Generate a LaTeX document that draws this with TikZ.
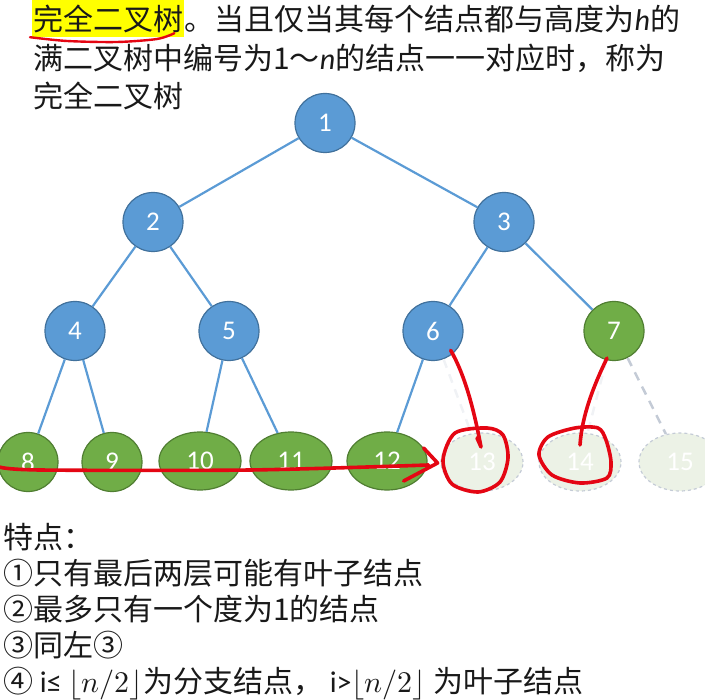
\documentclass[tikz,border=0pt]{standalone}
\usepackage{fontspec}
\usepackage{unicode-math}
\setmainfont{Noto Sans CJK SC}
\newfontfamily\numfont{Carlito}
\usetikzlibrary{shapes.geometric,calc}
\definecolor{tblue}{RGB}{91,155,213}
\definecolor{tblueline}{RGB}{65,113,156}
\definecolor{tgreen}{RGB}{112,173,71}
\definecolor{tgreenline}{RGB}{80,126,50}
\definecolor{tghost}{RGB}{236,242,230}
\definecolor{tghostline}{RGB}{196,203,214}
\definecolor{penred}{RGB}{228,6,19}
\definecolor{hlyellow}{RGB}{255,255,0}
\definecolor{inkgray}{RGB}{25,25,25}

\begin{document}
\begin{tikzpicture}[x=1pt,y=-1pt,
  nd/.style={ellipse,draw=tblueline,line width=1.2pt,fill=tblue,text=white,
             minimum width=60pt,minimum height=59pt,inner sep=0pt,
             font=\numfont\fontsize{27}{27}\selectfont},
  gn/.style={nd,fill=tgreen,draw=tgreenline},
  wide/.style={minimum width=82pt,minimum height=58pt},
  ghost/.style={nd,wide,fill=tghost,draw=tghostline,dashed},
  link/.style={draw=tblue,line width=2.2pt},
  ghostlink/.style={draw=tghostline,line width=2.5pt,dash pattern=on 9pt off 7pt},
  pen/.style={draw=penred,line width=3.6pt,line cap=round,line join=round},
  txt/.style={font=\fontsize{30}{36}\selectfont,inner sep=0pt,anchor=base west,text=inkgray}
]
\useasboundingbox (0,0) rectangle (705,700);

% definition text
\node[txt,fill=hlyellow,text height=27pt,text depth=2pt,inner ysep=4pt,inner xsep=1pt]
  (hl) at (32,31) {完全二叉树};
\node[txt] (l1) at (hl.base east) {。当且仅当其每个结点都与高度为{\numfont\itshape h}的};
\node[txt] (l2) at ($(hl.base west)+(1,38.5)$) {满二叉树中编号为1～{\numfont\itshape n}的结点一一对应时，称为};
\node[txt] (l3) at ($(l2.base west)+(0,38.5)$) {完全二叉树};

% tree
\node[nd] (n1) at (325,123) {1};
\node[nd] (n2) at (153,222) {2};
\node[nd] (n3) at (504,222) {3};
\node[nd] (n4) at (75,331) {4};
\node[nd] (n5) at (229,331) {5};
\node[nd] (n6) at (433,331) {6};
\node[gn] (n7) at (614,331) {7};
\node[gn] (n8) at (28,462) {8};
\node[gn] (n9) at (112,462) {9};
\node[gn,wide] (n10) at (200,461) {10};
\node[gn,wide] (n11) at (291,461) {11};
\node[gn,wide,minimum width=80pt] (n12) at (387,461) {12};
\node[ghost] (n13) at (482,462) {13};
\node[ghost] (n14) at (580,462) {14};
\node[ghost] (n15) at (680,462) {15};

\draw[link] (n1) -- (n2);
\draw[link] (n1) -- (n3);
\draw[link] (n2) -- (n4);
\draw[link] (n2) -- (n5);
\draw[link] (n3) -- (n6);
\draw[link] (n3) -- (n7);
\draw[link] (n4) -- (n8);
\draw[link] (n4) -- (n9);
\draw[link] (n5) -- (n10);
\draw[link] (n5) -- (n11);
\draw[link] (n6) -- (n12);
\draw[ghostlink,draw=tghostline!25] (n6) -- (n13);
\draw[ghostlink,draw=tghostline!25] (n7) -- (n14);
\draw[ghostlink] (n7) -- (n15);

% red pen marks
\draw[pen,line width=2.4pt] plot[smooth] coordinates {($(hl.south west)+(-2,0)$) (67,41) (117,42) (157,39) ($(hl.south east)+(-10,-4)$)};
\draw[pen] plot[smooth] coordinates {($(n8.west)+(2,5)$) (40,470) (250,470) ($(n12.east)+(1,4)$)};
\draw[pen] ($(n12.east)+(-4,-13)$) -- ($(n12.east)+(10,2)$) -- ($(n12.east)+(-24,20)$);
\draw[pen] ($(n6.south east)+(-4,-2)$) .. controls (465,375) and (474,410) .. ($(n13)+(-1,-15)$) -- ($(n13)+(-5,-24)$);
\draw[pen] plot[smooth cycle] coordinates {($(n13)+(5,-34)$) ($(n13)+(-27,-29)$) ($(n13)+(-39,-2)$) ($(n13)+(-30,22)$) ($(n13)+(-4,30)$) ($(n13)+(18,20)$) ($(n13)+(26,-4)$) ($(n13)+(21,-27)$)};
\draw[pen] ($(n7.south)+(-7,-3)$) .. controls (594,385) and (582,415) .. ($(n14)+(0,-17)$);
\draw[pen] plot[smooth cycle] coordinates {($(n14)+(18,-34)$) ($(n14)+(26,-22)$) ($(n14)+(31,0)$) ($(n14)+(27,16)$) ($(n14)+(0,21)$) ($(n14)+(-28,13)$) ($(n14)+(-41,-7)$) ($(n14)+(-32,-25)$) ($(n14)+(-5,-34)$)};

% features
\node[txt] (feat) at (3,549) {特点：};
\node[txt] (f1) at ($(feat.base west)+(0,36)$) {①只有最后两层可能有叶子结点};
\node[txt] (f2) at ($(f1.base west)+(0,35.5)$) {②最多只有一个度为1的结点};
\node[txt] (f3) at ($(f2.base west)+(0,35.5)$) {③同左③};
\node[txt] (f4) at ($(f3.base west)+(0,36)$) {④ {\numfont i≤} $\lfloor n/2\rfloor$为分支结点， {\numfont i>}$\lfloor n/2\rfloor$ 为叶子结点};
\end{tikzpicture}
\end{document}
